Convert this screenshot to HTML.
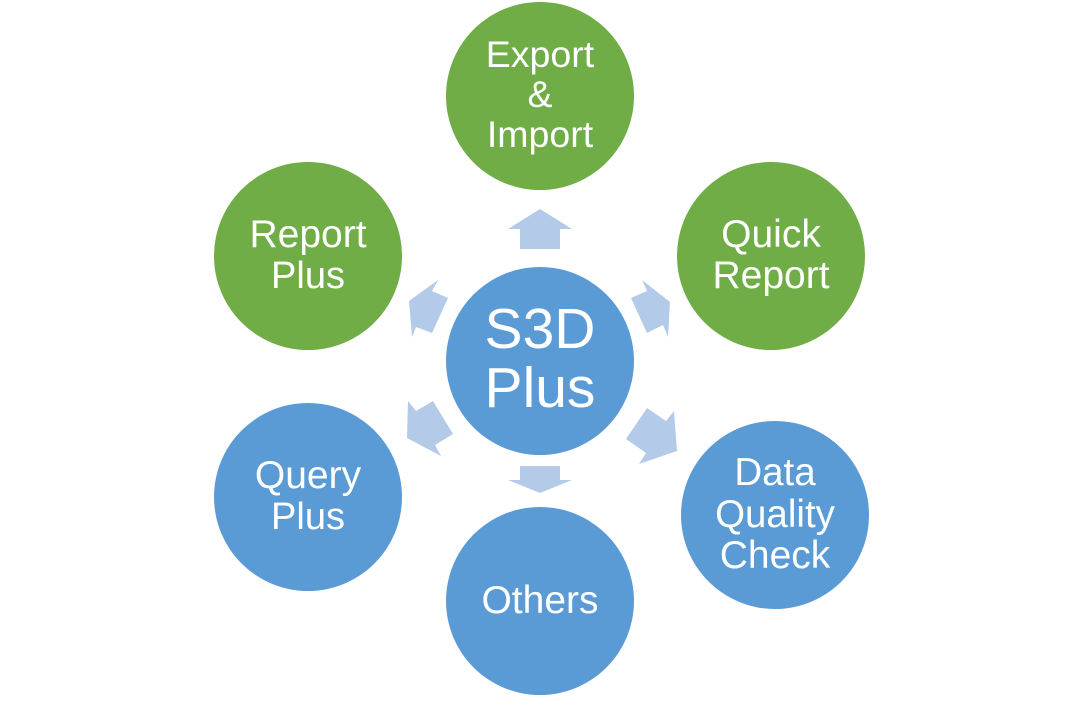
<!DOCTYPE html>
<html>
<head>
<meta charset="utf-8">
<style>
html,body{margin:0;padding:0;background:#fff;width:1080px;height:721px;overflow:hidden}
svg{display:block}
text{font-family:"Liberation Sans",sans-serif;fill:#fff;text-anchor:middle;font-size:39px}
</style>
</head>
<body>
<svg width="1080" height="721" viewBox="0 0 1080 721" xmlns="http://www.w3.org/2000/svg">
<rect width="1080" height="721" fill="#fff"/>
<g fill="#b3cbe8">
<polygon points="540,209 572,229 560,229 560,249 520,249 520,229 508,229"/>
<polygon points="520,466 560,466 560,480 572,480 540,493 508,480 520,480"/>
<polygon points="642,280 670,302 668,337 663,325 647,333 631,298 647,291"/>
<polygon points="438,280 409,301 412,337 416,327 432,333 448,298 432,291"/>
<polygon points="408,401 407,438 441,456 435,445 453,434 433,401 416,411"/>
<polygon points="674,411 677,451 639,464 646,453 626,439 647,408 666,421"/>
</g>
<g fill="#70ad47">
<circle cx="540" cy="96" r="94"/>
<circle cx="771" cy="256" r="94"/>
<circle cx="308" cy="256" r="94"/>
</g>
<g fill="#5b9bd5">
<circle cx="540" cy="361" r="94"/>
<circle cx="775" cy="515" r="94"/>
<circle cx="308" cy="497" r="94"/>
<circle cx="540" cy="601" r="94"/>
</g>
<text x="540" y="67" style="font-size:37.5px">Export</text>
<text x="540" y="107" style="font-size:37.5px">&amp;</text>
<text x="540" y="147" style="font-size:37.5px">Import</text>
<text x="771" y="247">Quick</text>
<text x="771" y="288">Report</text>
<text x="308" y="247">Report</text>
<text x="308" y="288" style="font-size:38px">Plus</text>
<text x="540" y="348" style="font-size:57px">S3D</text>
<text x="540" y="407" style="font-size:57px">Plus</text>
<text x="308" y="488">Query</text>
<text x="308" y="529" style="font-size:38px">Plus</text>
<text x="775" y="485" style="font-size:38.5px">Data</text>
<text x="775" y="527" style="font-size:38.5px">Quality</text>
<text x="775" y="568">Check</text>
<text x="540" y="613">Others</text>
</svg>
</body>
</html>
